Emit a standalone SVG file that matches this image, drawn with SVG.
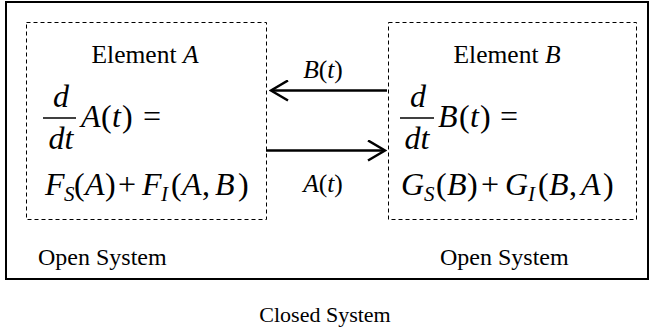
<svg xmlns="http://www.w3.org/2000/svg" width="650" height="333" viewBox="0 0 650 333">
  <defs>
    <style>
      text { font-family: "Liberation Serif", "Times New Roman", serif; fill: #000; }
      .lbl { font-size: 25.5px; }
      .cap { font-size: 24px; }
      .cls { font-size: 22px; }
      .mth { font-size: 32px; }
      .it { font-style: italic; }
      .sub { font-size: 21px; font-style: italic; }
      .dash { fill: none; stroke: #000; stroke-width: 1; stroke-dasharray: 4 3; }
      .bar { stroke: #000; stroke-width: 1.5; }
      .conn { stroke: #000; stroke-width: 2.5; fill: none; }
    </style>
    <marker id="head" viewBox="0 0 20 22" refX="18" refY="11" markerWidth="20" markerHeight="22" markerUnits="userSpaceOnUse" orient="auto">
      <path d="M1,1 L18,11 L1,21" fill="none" stroke="#000" stroke-width="2.5"/>
    </marker>
  </defs>

  <rect x="0" y="0" width="650" height="333" fill="#fff"/>

  <!-- closed system boundary -->
  <g id="closed-system">
    <rect x="6" y="2" width="642" height="277" fill="none" stroke="#000" stroke-width="2"/>
    <text class="cls" x="325" y="322" text-anchor="middle">Closed System</text>
  </g>

  <!-- element A -->
  <g id="element-a">
    <rect class="dash" x="26.5" y="22.5" width="240" height="197"/>
    <text class="lbl" x="145" y="63" text-anchor="middle">Element <tspan class="it">A</tspan></text>
    <text class="mth it" x="61" y="107" text-anchor="middle">d</text>
    <line class="bar" x1="43" y1="118" x2="76" y2="118"/>
    <text class="mth it" x="61" y="149" text-anchor="middle">dt</text>
    <text class="mth" y="127"><tspan class="it" x="81">A</tspan><tspan x="101">(</tspan><tspan class="it" x="112">t</tspan><tspan x="122">)</tspan><tspan x="143">=</tspan></text>
    <text class="mth" y="195"><tspan class="it" x="45">F</tspan><tspan class="sub" x="64" dy="6">S</tspan><tspan x="74" dy="-6">(</tspan><tspan class="it" x="85">A</tspan><tspan x="105">)</tspan><tspan x="118">+</tspan><tspan class="it" x="142">F</tspan><tspan class="sub" x="161" dy="6">I</tspan><tspan x="171" dy="-6">(</tspan><tspan class="it" x="182">A</tspan><tspan x="202">,</tspan><tspan class="it" x="215">B</tspan><tspan x="238">)</tspan></text>
    <text class="cap" x="38" y="265">Open System</text>
  </g>

  <!-- element B -->
  <g id="element-b">
    <rect class="dash" x="388.5" y="22.5" width="248" height="197"/>
    <text class="lbl" x="507" y="63" text-anchor="middle">Element <tspan class="it">B</tspan></text>
    <text class="mth it" x="418" y="107" text-anchor="middle">d</text>
    <line class="bar" x1="400" y1="118" x2="434" y2="118"/>
    <text class="mth it" x="417" y="149" text-anchor="middle">dt</text>
    <text class="mth" y="127"><tspan class="it" x="438">B</tspan><tspan x="459">(</tspan><tspan class="it" x="470">t</tspan><tspan x="480">)</tspan><tspan x="500">=</tspan></text>
    <text class="mth" y="195"><tspan class="it" x="401">G</tspan><tspan class="sub" x="424" dy="6">S</tspan><tspan x="436" dy="-6">(</tspan><tspan class="it" x="447">B</tspan><tspan x="467">)</tspan><tspan x="481">+</tspan><tspan class="it" x="505">G</tspan><tspan class="sub" x="528" dy="6">I</tspan><tspan x="538" dy="-6">(</tspan><tspan class="it" x="549">B</tspan><tspan x="569">,</tspan><tspan class="it" x="581">A</tspan><tspan x="603">)</tspan></text>
    <text class="cap" x="440" y="265">Open System</text>
  </g>

  <!-- exchange between the two elements -->
  <g id="connectors">
    <line class="conn" x1="387" y1="90.5" x2="271" y2="90.5" marker-end="url(#head)"/>
    <line class="conn" x1="266" y1="150.5" x2="385" y2="150.5" marker-end="url(#head)"/>
    <text class="lbl" x="323" y="78" text-anchor="middle"><tspan class="it">B</tspan>(<tspan class="it">t</tspan>)</text>
    <text class="lbl" x="323" y="192" text-anchor="middle"><tspan class="it">A</tspan>(<tspan class="it">t</tspan>)</text>
  </g>
</svg>
